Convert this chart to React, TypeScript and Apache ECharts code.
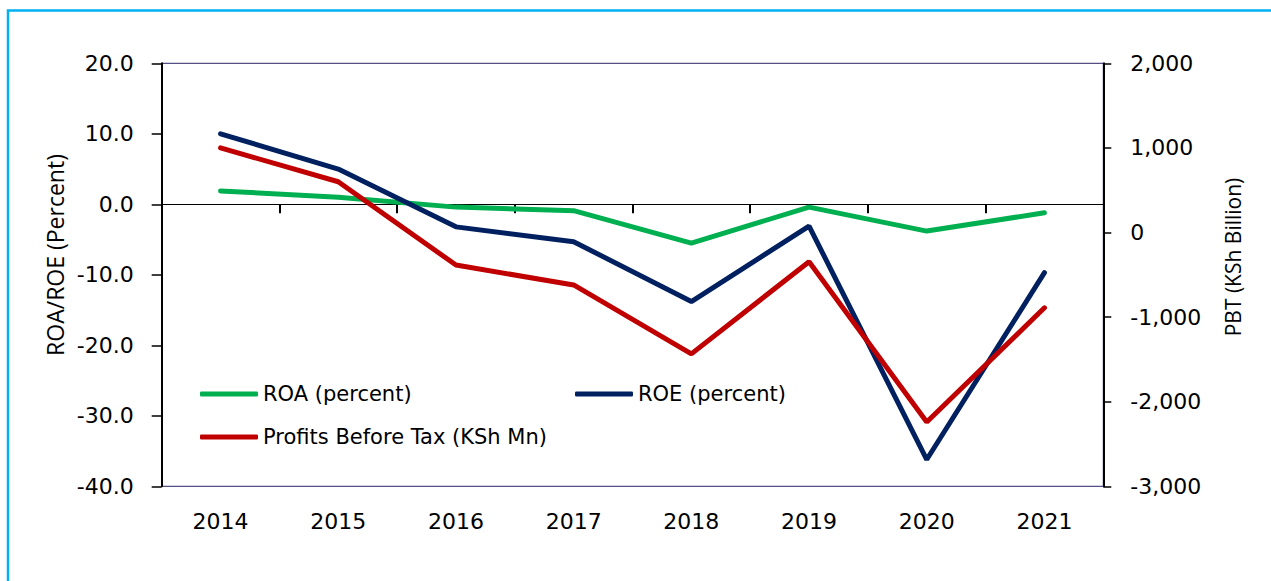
import React, { useEffect, useRef } from "react";
import * as echarts from "echarts";

const categories = ["2014", "2015", "2016", "2017", "2018", "2019", "2020", "2021"];
const roa = [1.9, 1.0, -0.4, -0.9, -5.5, -0.4, -3.8, -1.2];
const roe = [10.0, 5.0, -3.2, -5.3, -13.8, -3.1, -36.2, -9.7];
const pbt = [1000, 600, -385, -620, -1435, -345, -2240, -890];

const seriesNames = ["ROA (percent)", "ROE (percent)", "Profits Before Tax (KSh Mn)"];
const leftAxisName = "ROA/ROE (Percent)";
const rightAxisName = "PBT (KSh Billion)";

const GREEN = "#00B050";
const NAVY = "#002060";
const RED = "#C00000";
const TICK_FONT = "DejaVu Sans";

export default function App() {
  const ref = useRef<HTMLDivElement>(null);

  useEffect(() => {
    document.body.style.margin = "0";
    if (!ref.current) return;
    const chart = echarts.init(ref.current, undefined, { renderer: "svg" });

    const legendCommon = {
      orient: "horizontal",
      padding: 0,
      itemWidth: 58,
      itemHeight: 5,
      itemGap: 5,
      icon: "roundRect",
      textStyle: { fontFamily: TICK_FONT, fontSize: 21, color: "#000", lineHeight: 24 },
      selectedMode: false,
    };

    const option: any = {
      animation: false,
      backgroundColor: "#fff",
      grid: {
        left: 161.7,
        right: 1271 - 1103.3,
        top: 63.3,
        bottom: 581 - 486.3,
        show: true,
        borderColor: "#2B2468",
        borderWidth: 1,
        containLabel: false,
      },
      legend: [
        { ...legendCommon, data: [seriesNames[0]], left: 200, top: 382 },
        { ...legendCommon, data: [seriesNames[1]], left: 575, top: 382 },
        { ...legendCommon, data: [seriesNames[2]], left: 200, top: 425 },
      ],
      xAxis: [
        {
          type: "category",
          data: categories,
          boundaryGap: true,
          position: "bottom",
          axisLine: { show: false, onZero: false },
          axisTick: { show: false },
          axisLabel: { fontFamily: TICK_FONT, fontSize: 22, color: "#000", margin: 24 },
          splitLine: { show: false },
        },
        {
          type: "category",
          data: categories,
          boundaryGap: true,
          position: "top",
          axisLine: {
            show: true,
            onZero: true,
            onZeroAxisIndex: 0,
            lineStyle: { color: "#000", width: 1.2 },
          },
          axisTick: { show: true, inside: true, length: 9, lineStyle: { color: "#000", width: 2 } },
          axisLabel: { show: false },
          splitLine: { show: false },
        },
      ],
      yAxis: [
        {
          type: "value",
          min: -40,
          max: 20,
          interval: 10,
          position: "left",
          axisLine: { show: true, lineStyle: { color: "#000", width: 2 } },
          axisTick: { show: true, length: 10, lineStyle: { color: "#000", width: 1.5 } },
          axisLabel: {
            fontFamily: TICK_FONT,
            fontSize: 22,
            color: "#000",
            margin: 28,
            formatter: (v: number) => v.toFixed(1),
          },
          splitLine: { show: false },
        },
        {
          type: "value",
          min: -3000,
          max: 2000,
          interval: 1000,
          position: "right",
          axisLine: { show: true, lineStyle: { color: "#000", width: 2 } },
          axisTick: { show: true, length: 8, lineStyle: { color: "#000", width: 1.5 } },
          axisLabel: {
            fontFamily: TICK_FONT,
            fontSize: 22,
            color: "#000",
            margin: 27,
            formatter: (v: number) => v.toLocaleString("en-US"),
          },
          splitLine: { show: false },
        },
      ],
      series: [
        {
          name: seriesNames[0],
          type: "line",
          data: roa,
          xAxisIndex: 0,
          yAxisIndex: 0,
          symbol: "none",
          color: GREEN,
          lineStyle: { color: GREEN, width: 5, cap: "round" },
          z: 3,
        },
        {
          name: seriesNames[1],
          type: "line",
          data: roe,
          xAxisIndex: 0,
          yAxisIndex: 0,
          symbol: "none",
          color: NAVY,
          lineStyle: { color: NAVY, width: 5, cap: "round" },
          z: 4,
        },
        {
          name: seriesNames[2],
          type: "line",
          data: pbt,
          xAxisIndex: 0,
          yAxisIndex: 1,
          symbol: "none",
          color: RED,
          lineStyle: { color: RED, width: 5, cap: "round" },
          z: 5,
        },
      ],
      graphic: [
        {
          type: "rect",
          shape: { x: 8, y: 10.5, width: 1400, height: 800 },
          style: { fill: "none", stroke: "#00B0F0", lineWidth: 2.5 },
          silent: true,
        },
        {
          type: "text",
          x: 55,
          y: 255,
          rotation: Math.PI / 2,
          style: {
            text: leftAxisName,
            fontFamily: "Open Sans",
            fontSize: 23,
            fill: "#000",
            align: "center",
            verticalAlign: "middle",
          },
        },
        {
          type: "text",
          x: 1233,
          y: 257,
          rotation: Math.PI / 2,
          style: {
            text: rightAxisName,
            fontFamily: "Open Sans",
            fontSize: 21,
            fill: "#000",
            align: "center",
            verticalAlign: "middle",
          },
        },
      ],
    };

    chart.setOption(option);
    return () => {
      chart.dispose();
    };
  }, []);

  return <div ref={ref} style={{ width: 1271, height: 581 }} />;
}
